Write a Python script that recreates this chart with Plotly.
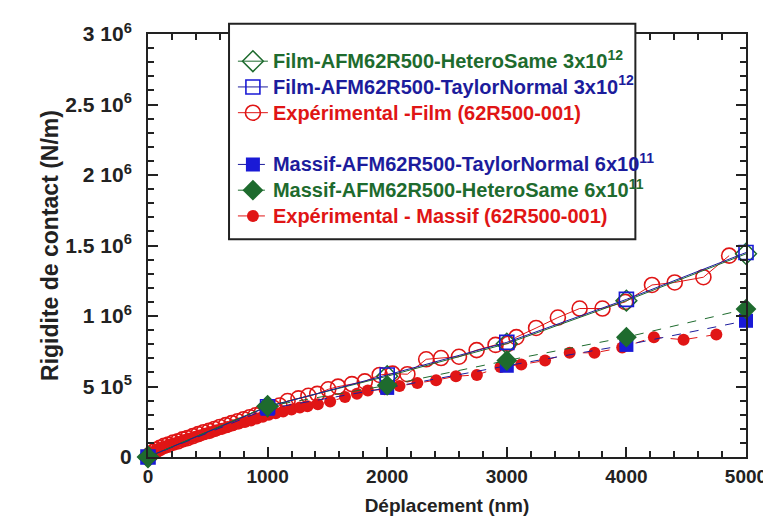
import plotly.graph_objects as go

# ---------------- data ----------------
sim_x = [0, 1000, 2000, 3000, 4000, 5000]
film_hetero_y = [0, 0.36e6, 0.573e6, 0.804e6, 1.109e6, 1.441e6]
film_taylor_y = [0, 0.356e6, 0.582e6, 0.813e6, 1.118e6, 1.45e6]
massif_taylor_y = [0, 0.342e6, 0.49e6, 0.647e6, 0.795e6, 0.966e6]
massif_hetero_y = [0, 0.36e6, 0.508e6, 0.684e6, 0.85e6, 1.049e6]

film_exp_x = [0, 20, 45, 70, 100, 135, 170, 210, 250, 290, 330, 375, 420, 465, 510,
              555, 600, 650, 700, 750, 800, 850, 900, 950, 1000, 1050, 1100, 1167,
              1258, 1341, 1415, 1507, 1589, 1705, 1813, 1937, 2045, 2169, 2326, 2450,
              2600, 2748, 2906, 3013, 3080, 3245, 3427, 3609, 3800, 3990, 4214, 4404,
              4644, 4859]
film_exp_y = [0, 0.018e6, 0.037e6, 0.051e6, 0.065e6, 0.079e6, 0.088e6, 0.102e6,
              0.111e6, 0.125e6, 0.134e6, 0.148e6, 0.162e6, 0.176e6, 0.185e6, 0.199e6,
              0.213e6, 0.226e6, 0.24e6, 0.254e6, 0.268e6, 0.282e6, 0.296e6, 0.314e6,
              0.333e6, 0.347e6, 0.365e6, 0.397e6, 0.416e6, 0.434e6, 0.448e6, 0.48e6,
              0.499e6, 0.517e6, 0.536e6, 0.582e6, 0.591e6, 0.587e6, 0.693e6, 0.702e6,
              0.711e6, 0.758e6, 0.795e6, 0.804e6, 0.85e6, 0.915e6, 0.989e6, 1.053e6,
              1.053e6, 1.10e6, 1.22e6, 1.238e6, 1.275e6, 1.428e6]

massif_exp_x = [0, 15, 35, 60, 85, 115, 150, 185, 225, 265, 305, 350, 395, 440, 485,
                530, 575, 620, 665, 710, 760, 810, 861, 910, 960, 1010, 1068, 1130,
                1200, 1270, 1333, 1420, 1523, 1647, 1747, 1838, 1978, 2103, 2252, 2409,
                2575, 2750, 2947, 3121, 3320, 3526, 3733, 3965, 4230, 4478, 4752]
massif_exp_y = [0, 0.014e6, 0.028e6, 0.042e6, 0.054e6, 0.065e6, 0.076e6, 0.088e6,
                0.097e6, 0.109e6, 0.12e6, 0.132e6, 0.143e6, 0.155e6, 0.166e6, 0.177e6,
                0.189e6, 0.201e6, 0.213e6, 0.225e6, 0.237e6, 0.249e6, 0.259e6, 0.273e6,
                0.286e6, 0.30e6, 0.31e6, 0.323e6, 0.337e6, 0.351e6, 0.36e6, 0.374e6,
                0.393e6, 0.425e6, 0.448e6, 0.471e6, 0.48e6, 0.504e6, 0.524e6, 0.545e6,
                0.573e6, 0.582e6, 0.638e6, 0.656e6, 0.684e6, 0.739e6, 0.739e6, 0.776e6,
                0.85e6, 0.832e6, 0.869e6]

x_tickvals = [0, 1000, 2000, 3000, 4000, 5000]
x_ticktext = ["0", "1000", "2000", "3000", "4000", "5000"]
y_tickvals = [0, 0.5e6, 1.0e6, 1.5e6, 2.0e6, 2.5e6, 3.0e6]
y_ticktext = ["0", "5 10<sup>5</sup>", "1 10<sup>6</sup>", "1.5 10<sup>6</sup>",
              "2 10<sup>6</sup>", "2.5 10<sup>6</sup>", "3 10<sup>6</sup>"]

GREEN = "#1e6b2e"
BLUE = "#1a1ad6"
NAVY = "#1c1c9c"
RED = "#e01515"
FONT = "Liberation Sans, Arial, sans-serif"
AX = "#222222"


def lab(text, color):
    return f'<span style="color:{color};font-size:20px">{text}</span>'


fig = go.Figure()

fig.add_trace(go.Scatter(
    x=film_exp_x, y=film_exp_y, mode="lines+markers", cliponaxis=False,
    name=lab("Expérimental -Film (62R500-001)", RED),
    line=dict(color=RED, width=1),
    marker=dict(symbol="circle-open", size=15, color=RED, line=dict(width=1.6)),
    legendgroup="film", legendrank=3))
fig.add_trace(go.Scatter(
    x=massif_exp_x, y=massif_exp_y, mode="lines+markers", cliponaxis=False,
    name=lab("Expérimental - Massif (62R500-001)", RED),
    line=dict(color=RED, width=1, dash="dash"),
    marker=dict(symbol="circle", size=12, color=RED),
    legendgroup="massif", legendrank=6))

fig.add_trace(go.Scatter(
    x=sim_x, y=film_hetero_y, mode="lines+markers", cliponaxis=False,
    name=lab("Film-AFM62R500-HeteroSame 3x10<sup>12</sup>", GREEN),
    line=dict(color=GREEN, width=1),
    marker=dict(symbol="diamond-open", size=16, color=GREEN, line=dict(width=1.5)),
    legendgroup="film", legendrank=1))
fig.add_trace(go.Scatter(
    x=sim_x, y=film_taylor_y, mode="lines+markers", cliponaxis=False,
    name=lab("Film-AFM62R500-TaylorNormal 3x10<sup>12</sup>", NAVY),
    line=dict(color=NAVY, width=1),
    marker=dict(symbol="square-open", size=14, color=BLUE, line=dict(width=1.6)),
    legendgroup="film", legendrank=2))
fig.add_trace(go.Scatter(
    x=sim_x, y=massif_taylor_y, mode="lines+markers", cliponaxis=False,
    name=lab("Massif-AFM62R500-TaylorNormal 6x10<sup>11</sup>", NAVY),
    line=dict(color=NAVY, width=1, dash="dash"),
    marker=dict(symbol="square", size=14, color=BLUE),
    legendgroup="massif", legendrank=4))
fig.add_trace(go.Scatter(
    x=sim_x, y=massif_hetero_y, mode="lines+markers", cliponaxis=False,
    name=lab("Massif-AFM62R500-HeteroSame 6x10<sup>11</sup>", GREEN),
    line=dict(color=GREEN, width=1, dash="dash"),
    marker=dict(symbol="diamond", size=16, color=GREEN),
    legendgroup="massif", legendrank=5))

axis_common = dict(
    showline=True, linecolor=AX, linewidth=2, mirror="ticks",
    ticks="inside", ticklen=10, tickwidth=2, tickcolor=AX,
    showgrid=False, zeroline=False, ticklabeloverflow="allow",
)

fig.update_xaxes(
    range=[0, 5000], tickvals=x_tickvals, ticktext=x_ticktext,
    minor=dict(ticks="inside", ticklen=6, tickwidth=1.5, tickcolor=AX, dtick=200),
    ticklabelstandoff=1,
    tickfont=dict(family=FONT, size=19, color=AX, weight="bold"),
    title=dict(text="Déplacement (nm)", font=dict(family=FONT, size=19, color=AX, weight="bold"),
               standoff=13),
    **axis_common)
fig.update_yaxes(
    range=[0, 3.0e6], tickvals=y_tickvals, ticktext=y_ticktext,
    minor=dict(ticks="inside", ticklen=6, tickwidth=1.5, tickcolor=AX, dtick=1e5),
    ticklabelstandoff=10,
    tickfont=dict(family=FONT, size=21, color=AX, weight="bold"),
    title=dict(text="Rigidite de contact (N/m)", font=dict(family=FONT, size=23, color=AX, weight="bold"),
               standoff=0),
    **axis_common)

# legend frame (white box drawn over the plot, legend placed inside it)
fig.add_shape(type="rect", xref="paper", yref="paper",
              x0=0.1355, x1=0.815, y0=0.515, y1=1.024,
              fillcolor="white", line=dict(color=AX, width=2), layer="above")

fig.update_layout(
    width=771, height=520,
    margin=dict(l=140, r=26, t=18, b=71),
    paper_bgcolor="white", plot_bgcolor="white",
    showlegend=True,
    legend=dict(
        x=0.142, y=0.978, xanchor="left", yanchor="top",
        bgcolor="rgba(0,0,0,0)", borderwidth=0,
        font=dict(family=FONT, size=17.5, weight="bold"),
        traceorder="grouped", tracegroupgap=26,
    ),
)

fig.write_html("out.html")
